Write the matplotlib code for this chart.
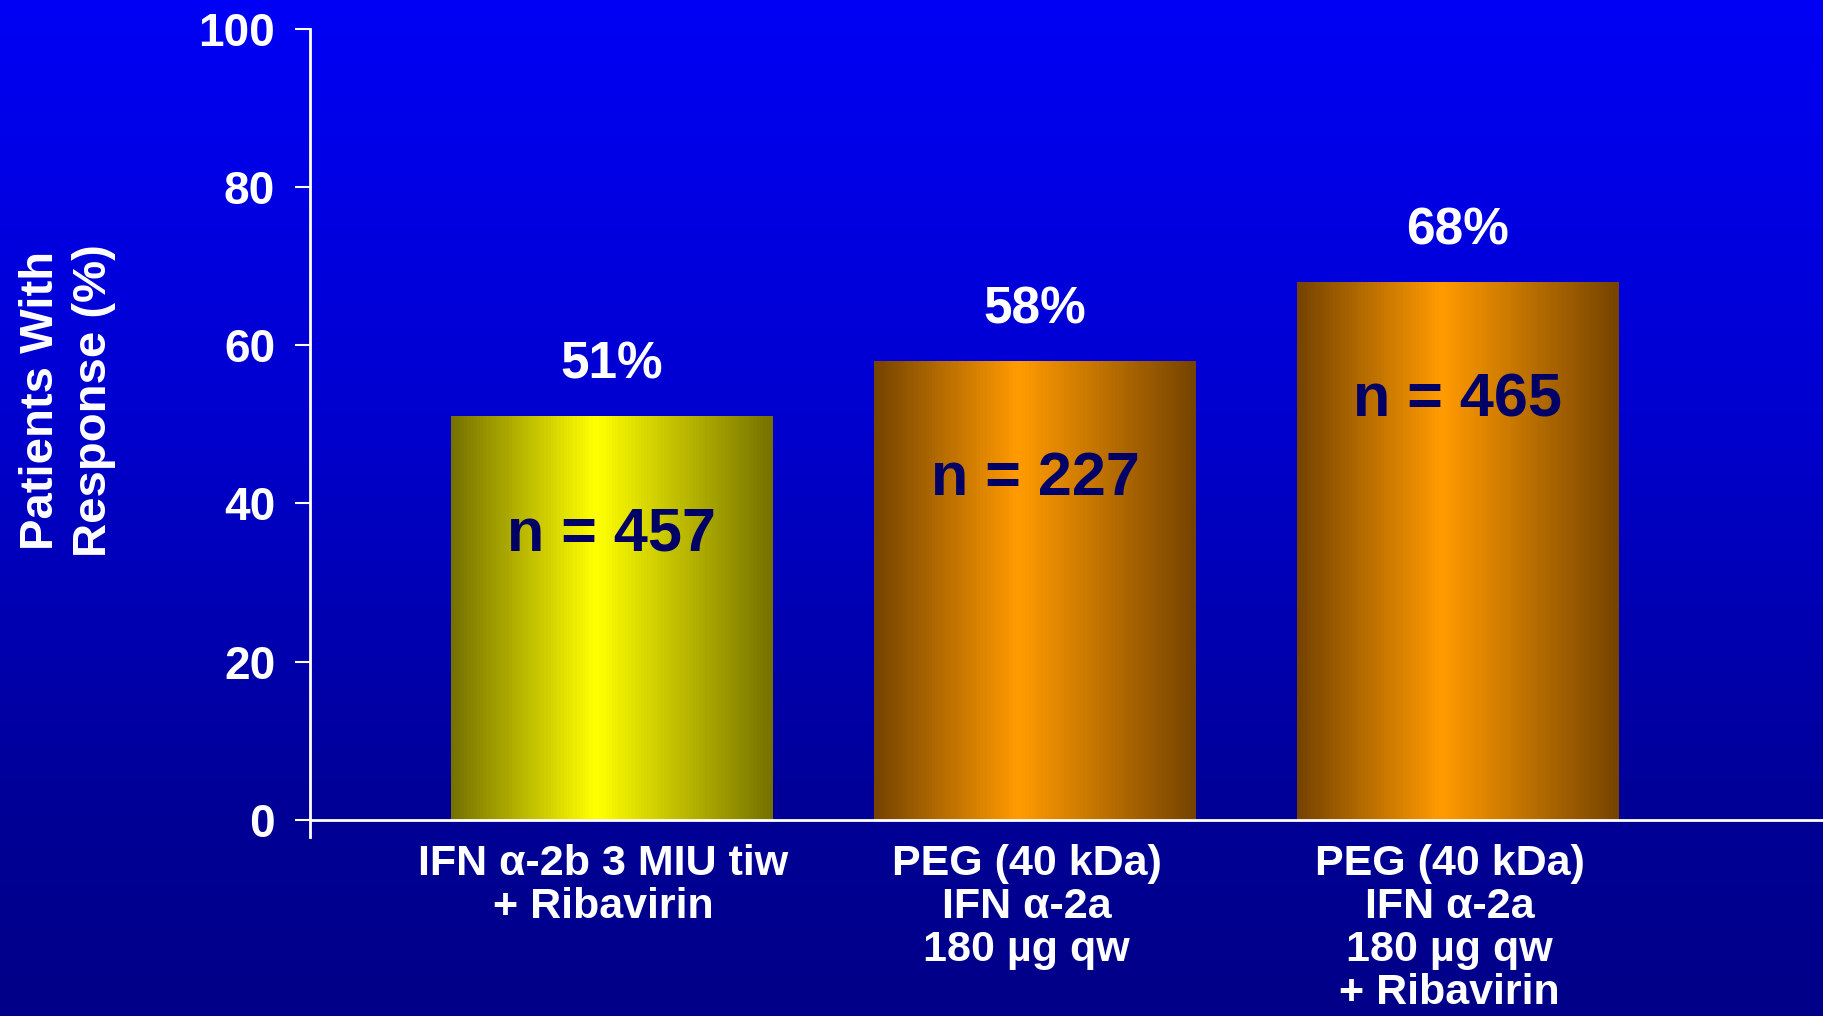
import matplotlib.pyplot as plt
import numpy as np
from matplotlib.colors import LinearSegmentedColormap

plt.rcParams['font.family'] = ['Liberation Sans', 'DejaVu Sans']
plt.rcParams['font.weight'] = 'bold'

groups = ['IFN \u03b1-2b 3 MIU tiw\n+ Ribavirin',
          'PEG (40 kDa)\nIFN \u03b1-2a\n180 \u00b5g qw',
          'PEG (40 kDa)\nIFN \u03b1-2a\n180 \u00b5g qw\n+ Ribavirin']
response = [51, 58, 68]
n_patients = [457, 227, 465]
bar_colors = [('#767200', '#ffff00'), ('#764400', '#ff9a00'), ('#764400', '#ff9a00')]

fig = plt.figure(figsize=(18.23, 10.16), dpi=100)

# slide background: blue fading to navy
bg = fig.add_axes([0, 0, 1, 1], zorder=-10)
bg_cmap = LinearSegmentedColormap.from_list(
    'bg', [(0, '#0000f5'), (0.4, '#0000d0'), (0.8, '#000096'), (1, '#000088')])
bg.imshow(np.linspace(0, 1, 256)[:, None], aspect='auto', cmap=bg_cmap,
          extent=[0, 1, 0, 1], origin='upper')
bg.axis('off')

ax = fig.add_axes([0.170, 0.176, 0.830, 0.7955])
ax.patch.set_alpha(0)
x = np.arange(len(groups))
ax.set_xlim(-0.714, 2.863)
ax.set_ylim(-2.2, 100)

bars = ax.bar(x, response, width=0.76, color='none', zorder=2)
ramp = np.concatenate([np.linspace(0, 1, 45), np.linspace(1, 0, 55)])
for b, (edge, mid) in zip(bars, bar_colors):
    cm = LinearSegmentedColormap.from_list('b', [edge, mid])
    ax.imshow(ramp[None, :], aspect='auto', cmap=cm, vmin=0, vmax=1,
              extent=[b.get_x(), b.get_x() + b.get_width(), 0, b.get_height()],
              zorder=1)

for xi, v, n in zip(x, response, n_patients):
    ax.text(xi, v + 6.5, f'{v}%', ha='center', va='center',
            color='white', fontsize=37, fontweight='bold')
    ax.text(xi, v - 15, f'n = {n}', ha='center', va='center',
            color='#000066', fontsize=44, fontweight='bold')

ax.axhline(0, color='white', lw=2, zorder=3)

for s in ['top', 'right', 'bottom']:
    ax.spines[s].set_visible(False)
ax.spines['left'].set_color('white')
ax.spines['left'].set_linewidth(2)

ax.set_yticks([0, 20, 40, 60, 80, 100])
ax.tick_params(axis='y', colors='white', labelsize=33, length=11, width=1.5, pad=14)
ax.set_xticks([])

for xi, g in zip(x, groups):
    ax.text(xi - 0.02, -3.0, g, ha='center', va='top', color='white',
            fontsize=31, fontweight='bold', linespacing=1.1)

fig.text(0.037, 0.606, 'Patients With\nResponse (%)', rotation=90,
         ha='center', va='center', color='white', fontsize=34,
         fontweight='bold', linespacing=1.25)

fig.savefig('out.png', dpi=100)
